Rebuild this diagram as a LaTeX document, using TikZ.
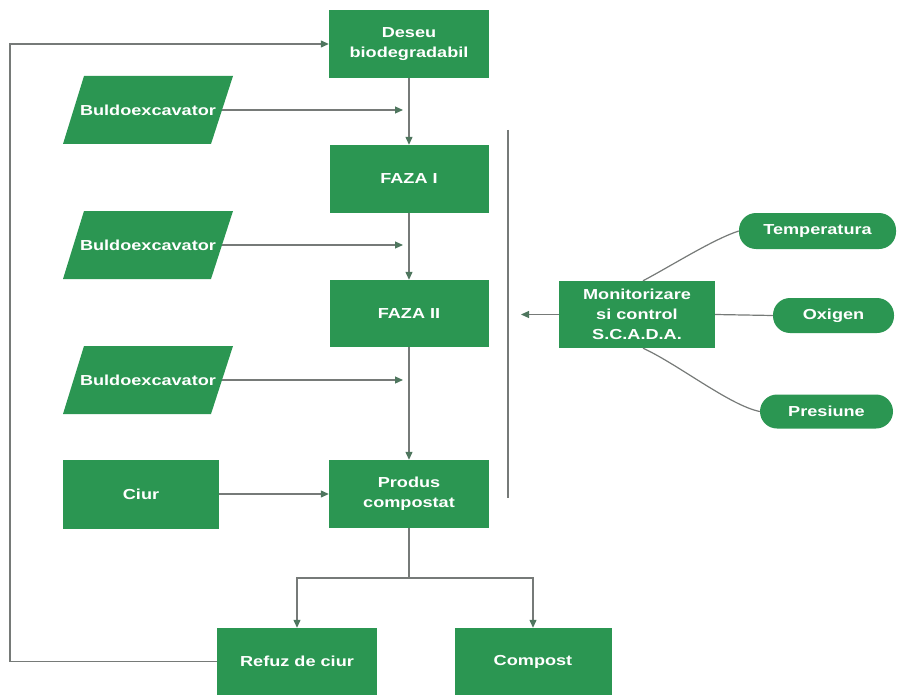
\documentclass[tikz,border=0pt]{standalone}
\usepackage{fontspec}
\setmainfont{Liberation Sans}[FakeStretch=1.25]
\usetikzlibrary{arrows.meta}
\definecolor{boxgreen}{RGB}{43,150,82}
\definecolor{linegrey}{RGB}{118,122,120}
\definecolor{tipgreen}{RGB}{78,118,94}
\begin{document}
\begin{tikzpicture}[x=1pt,y=-1pt,
  box/.style={draw=none,fill=boxgreen,text=white,font=\bfseries\fontsize{14.5}{20}\selectfont,align=center,inner sep=0pt},
  pill/.style={box,rounded corners=17pt},
  paratext/.style={box,fill=none,minimum width=148,minimum height=68},
  parafill/.style={fill=boxgreen,draw=none},
  conn/.style={draw=linegrey,line width=1.2pt},
  arr/.style={conn,-{Triangle[length=8pt,width=7pt,color=tipgreen]}}]
\useasboundingbox (0,0) rectangle (904,695);
% main column
\node[box,minimum width=160,minimum height=68] (deseu) at (409,44) {Deseu\\biodegradabil};
\node[box,minimum width=159,minimum height=68] (faza1) at (409,179) {FAZA I};
\node[box,minimum width=159,minimum height=67] (faza2) at (409,313.5) {FAZA II};
\node[box,minimum width=160,minimum height=68] (produs) at (409,494) {Produs\\compostat};
\node[box,minimum width=156,minimum height=69] (ciur) at (141,494) {Ciur};
\node[box,minimum width=160,minimum height=67] (refuz) at (297,661.5) {Refuz de ciur};
\node[box,minimum width=157,minimum height=67] (compost) at (533,661.5) {Compost};
% parallelograms
\path[parafill] (63,144) -- (84,76) -- (233,76) -- (211,144) -- cycle;
\path[parafill] (63,279) -- (84,211) -- (233,211) -- (211,279) -- cycle;
\path[parafill] (63,414) -- (84,346) -- (233,346) -- (211,414) -- cycle;
\node[paratext] (b1) at (148,110) {Buldoexcavator};
\node[paratext] (b2) at (148,245) {Buldoexcavator};
\node[paratext] (b3) at (148,380) {Buldoexcavator};
% monitoring
\node[box,minimum width=156,minimum height=67] (mon) at (637,314.5) {Monitorizare\\si control\\S.C.A.D.A.};
\node[pill,minimum width=157,minimum height=36] (temp) at (817.5,231) {Temperatura};
\node[pill,minimum width=121,minimum height=35] (oxigen) at (833.5,315.5) {Oxigen};
\node[pill,minimum width=133,minimum height=34] (presiune) at (826.5,411.5) {Presiune};
% connectors
\coordinate (e1) at (403,110);
\coordinate (e2) at (403,245);
\coordinate (e3) at (403,380);
\draw[arr] (b1.east) -- (e1);
\draw[arr] (b2.east) -- (e2);
\draw[arr] (b3.east) -- (e3);
\draw[arr] (deseu.south) -- (faza1.north);
\draw[arr] (faza1.south) -- (faza2.north);
\draw[arr] (faza2.south) -- (produs.north);
\draw[arr] (ciur.east) -- (produs.west);
\coordinate (split) at (409,578);
\draw[conn] (produs.south) -- (split);
\draw[arr] (split) -| (refuz.north);
\draw[arr] (split) -| (compost.north);
\coordinate (fbk) at (10,661.5);
\draw[arr] (refuz.west) -- (fbk) |- (deseu.west);
\coordinate (vt) at (508,130);
\coordinate (vb) at (508,498);
\draw[conn] (vt) -- (vb);
\coordinate (monend) at (521,314.5);
\draw[arr] (mon.west) -- (monend);
\draw[conn] (mon.east) -- (oxigen.west);
\draw[conn] ([xshift=6]mon.north) .. controls +(30,-16) and +(-25,8) .. (temp.west);
\draw[conn] ([xshift=6]mon.south) .. controls +(35,16) and +(-30,-6) .. (presiune.west);
\end{tikzpicture}
\end{document}
